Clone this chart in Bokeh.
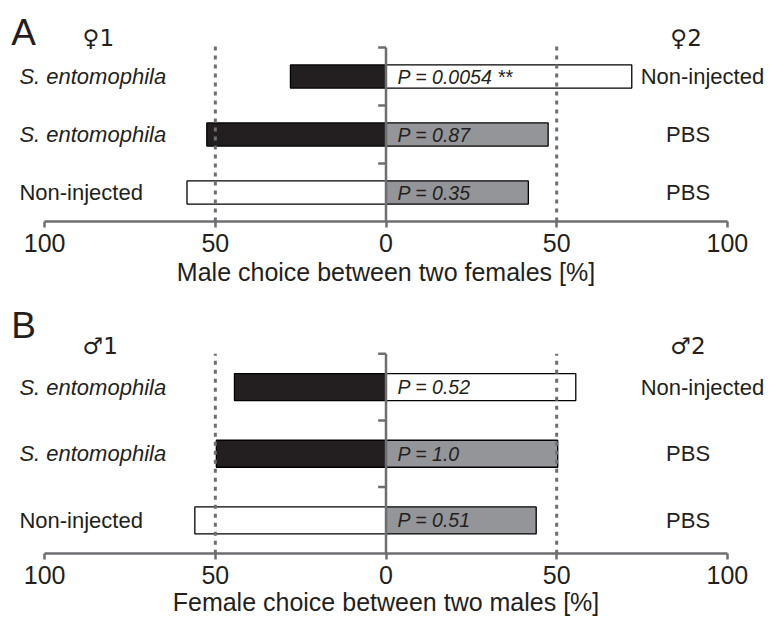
from bokeh.plotting import figure
from bokeh.models import Range1d, FixedTicker, LinearAxis, ColumnDataSource
from bokeh.layouts import column
from bokeh.embed import file_html
from bokeh.resources import INLINE
from bokeh.core.properties import value

# ---------------- data ----------------
left_groups = ["S. entomophila", "S. entomophila", "Non-injected"]
right_groups = ["Non-injected", "PBS", "PBS"]

a_left = [28.0, 52.5, 58.3]
a_right = [72.0, 47.5, 41.7]
a_pvals = ["P = 0.0054 **", "P = 0.87", "P = 0.35"]

b_left = [44.4, 49.7, 56.0]
b_right = [55.6, 50.3, 44.0]
b_pvals = ["P = 0.52", "P = 1.0", "P = 0.51"]

tick_values = [-100, -50, 0, 50, 100]
tick_labels = ["100", "50", "0", "50", "100"]

a_title = "Male choice between two females [%]"
b_title = "Female choice between two males [%]"

# ---------------- style ----------------
FONT = value("Liberation Sans")
INK = "#231f20"
AXIS = "#6d6e71"
group_colors = {"S. entomophila": "#231f20", "Non-injected": "#ffffff", "PBS": "#939598"}
right_label_x = {"Non-injected": 92.7, "PBS": 88.5}

W = 769
PX_PER_PCT = 3.4135
X0_PX = 385.5


def panel(letter, sym1, sym2, lvals, rvals, pvals, title, height, axis_px, row_px,
          letter_y, sym_y, dash_top, bar_h, title_standoff):
    y_hi = axis_px / row_px
    y_lo = -(height - axis_px) / row_px
    p = figure(width=W, height=height,
               x_range=Range1d(-X0_PX / PX_PER_PCT, (W - X0_PX) / PX_PER_PCT),
               y_range=Range1d(y_lo, y_hi),
               output_backend="svg", toolbar_location=None,
               x_axis_location=None, y_axis_location=None, min_border=0)
    p.outline_line_color = None
    p.background_fill_color = "white"
    p.border_fill_color = "white"
    p.grid.grid_line_color = None

    n = len(lvals)
    ys = [n - i - 0.5 for i in range(n)]
    src = ColumnDataSource(dict(
        y=ys,
        lv=[-v for v in lvals],
        rv=list(rvals),
        lc=[group_colors[g] for g in left_groups],
        rc=[group_colors[g] for g in right_groups],
        lname=left_groups,
        rname=right_groups,
        lx=[-107.4] * n,
        lstyle=["italic" if g.startswith("S.") else "normal" for g in left_groups],
        rx=[right_label_x[g] for g in right_groups],
        px=[3.4] * n,
        pv=list(pvals),
    ))

    p.hbar(y="y", left="lv", right=0, height=bar_h, fill_color="lc",
           line_color="black", line_width=1.3, source=src)
    p.hbar(y="y", left=0, right="rv", height=bar_h, fill_color="rc",
           line_color="black", line_width=1.3, source=src)

    # 50% reference lines
    p.segment(x0=[-50, 50], y0=[0, 0], x1=[-50, 50], y1=[dash_top, dash_top],
              line_color=AXIS, line_width=3, line_dash="4 5")

    # central vertical axis with category ticks
    p.segment(x0=[0], y0=[0], x1=[0], y1=[n], line_color=AXIS, line_width=2.5)
    bnd = list(range(1, n + 1))
    p.segment(x0=[-2.3] * n, y0=bnd, x1=[0] * n, y1=bnd,
              line_color=AXIS, line_width=2.5)

    # bottom axis
    ax = LinearAxis(fixed_location=0, bounds=(-100, 100),
                    ticker=FixedTicker(ticks=tick_values),
                    major_label_overrides={float(v): l for v, l in zip(tick_values, tick_labels)},
                    axis_label=title)
    ax.axis_line_color = AXIS
    ax.axis_line_width = 2.5
    ax.major_tick_line_color = AXIS
    ax.major_tick_line_width = 2.5
    ax.major_tick_out = 6
    ax.major_tick_in = 0
    ax.minor_tick_line_color = None
    ax.major_label_text_font = "Liberation Sans"
    ax.major_label_text_font_size = "25px"
    ax.major_label_text_color = INK
    ax.major_label_standoff = 6
    ax.axis_label_text_font = "Liberation Sans"
    ax.axis_label_text_font_size = "25px"
    ax.axis_label_text_font_style = "normal"
    ax.axis_label_text_color = INK
    ax.axis_label_standoff = title_standoff
    p.add_layout(ax, "below")

    # texts
    p.text(x="lx", y="y", text="lname", source=src, text_font=FONT,
           text_font_size="22px", text_font_style="lstyle",
           text_align="left", text_baseline="middle", text_color=INK)
    p.text(x="rx", y="y", text="rname", source=src, text_font=FONT,
           text_font_size="22px", text_align="center", text_baseline="middle",
           text_color=INK)
    p.text(x="px", y="y", text="pv", source=src, text_font=FONT,
           text_font_size="19.5px", text_font_style="italic",
           text_align="left", text_baseline="middle", text_color=INK)

    p.text(x=[-109.8], y=[letter_y], text=[letter], text_font=FONT,
           text_font_size="37px", text_align="left", text_baseline="middle",
           text_color=INK)
    p.text(x=[-88.9, 83.3], y=[sym_y, sym_y], text=[sym1, sym2],
           text_font=value("DejaVu Sans"),
           text_font_size="23px", text_align="left", text_baseline="middle",
           text_color=INK)
    return p


pA = panel("A", "\u26401", "\u26402", a_left, a_right, a_pvals, a_title,
           300, 221.0, 58.0, 3.267, 3.164, 3.06, 0.4, 3)
pB = panel("B", "\u26421", "\u26422", b_left, b_right, b_pvals, b_title,
           318, 253.3, 66.7, 3.423, 3.12, 3.0, 0.405, 1)

layout = column(pA, pB, spacing=0)
open("out.html", "w").write(file_html(layout, INLINE))
